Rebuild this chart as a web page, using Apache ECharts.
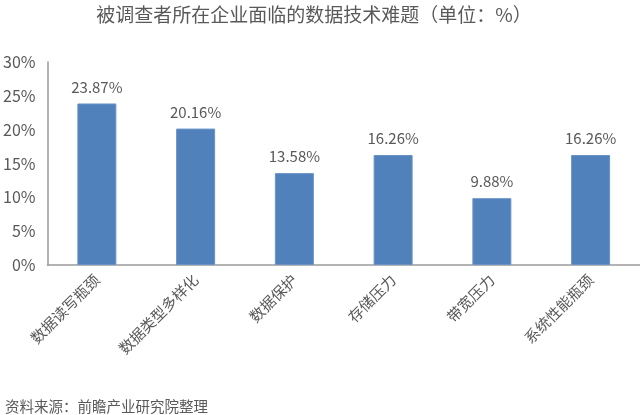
<!DOCTYPE html>
<html>
<head>
<meta charset="utf-8">
<script src="https://cdn.jsdelivr.net/npm/echarts@6/dist/echarts.min.js"></script>
<style>
  html, body { margin: 0; padding: 0; background: #fff; }
  #chart { width: 640px; height: 415px; }
</style>
</head>
<body>
<div id="chart"></div>
<script>
// Data-technology difficulties reported by surveyed companies (%)
const categories = ['数据读写瓶颈', '数据类型多样化', '数据保护', '存储压力', '带宽压力', '系统性能瓶颈'];
const shares = [23.87, 20.16, 13.58, 16.26, 9.88, 16.26];
const yTicks = [0, 5, 10, 15, 20, 25, 30];

const FONT = '"Noto Sans CJK SC", "Noto Sans", sans-serif';
const TEXT = '#595959';

const chart = echarts.init(document.getElementById('chart'), null, { renderer: 'canvas' });
chart.setOption({
  animation: false,
  backgroundColor: '#ffffff',
  title: [
    {
      text: '被调查者所在企业面临的数据技术难题（单位：%）',
      left: 309, top: 0, textAlign: 'center',
      textStyle: { fontFamily: FONT, fontSize: 19, fontWeight: 'normal', color: TEXT }
    },
    {
      text: '资料来源：前瞻产业研究院整理',
      left: 0, top: 394,
      textStyle: { fontFamily: FONT, fontSize: 14.5, fontWeight: 'normal', color: TEXT }
    }
  ],
  grid: { left: 47, right: 0, top: 62, bottom: 150, containLabel: false },
  xAxis: {
    type: 'category',
    data: categories,
    axisLine: { show: true, lineStyle: { color: '#9a9a9a', width: 1.5 } },
    axisTick: { show: false },
    axisLabel: {
      rotate: 45, interval: 0, margin: 12,
      fontFamily: FONT, fontSize: 15, color: TEXT
    }
  },
  yAxis: {
    type: 'value',
    min: yTicks[0], max: yTicks[yTicks.length - 1], interval: 5,
    splitLine: { show: false },
    axisLine: { show: true, lineStyle: { color: '#9a9a9a', width: 1.5 } },
    axisTick: { show: false },
    axisLabel: {
      margin: 12,
      fontFamily: FONT, fontSize: 16, color: TEXT,
      formatter: v => v + '%'
    }
  },
  series: [{
    type: 'bar',
    data: shares,
    barWidth: 39,
    itemStyle: { color: '#5181bb', borderColor: '#6a94c6', borderWidth: 1 },
    label: {
      show: true, position: 'top', distance: 9,
      fontFamily: FONT, fontSize: 15, color: TEXT,
      formatter: p => p.value.toFixed(2) + '%'
    }
  }]
});
</script>
</body>
</html>
